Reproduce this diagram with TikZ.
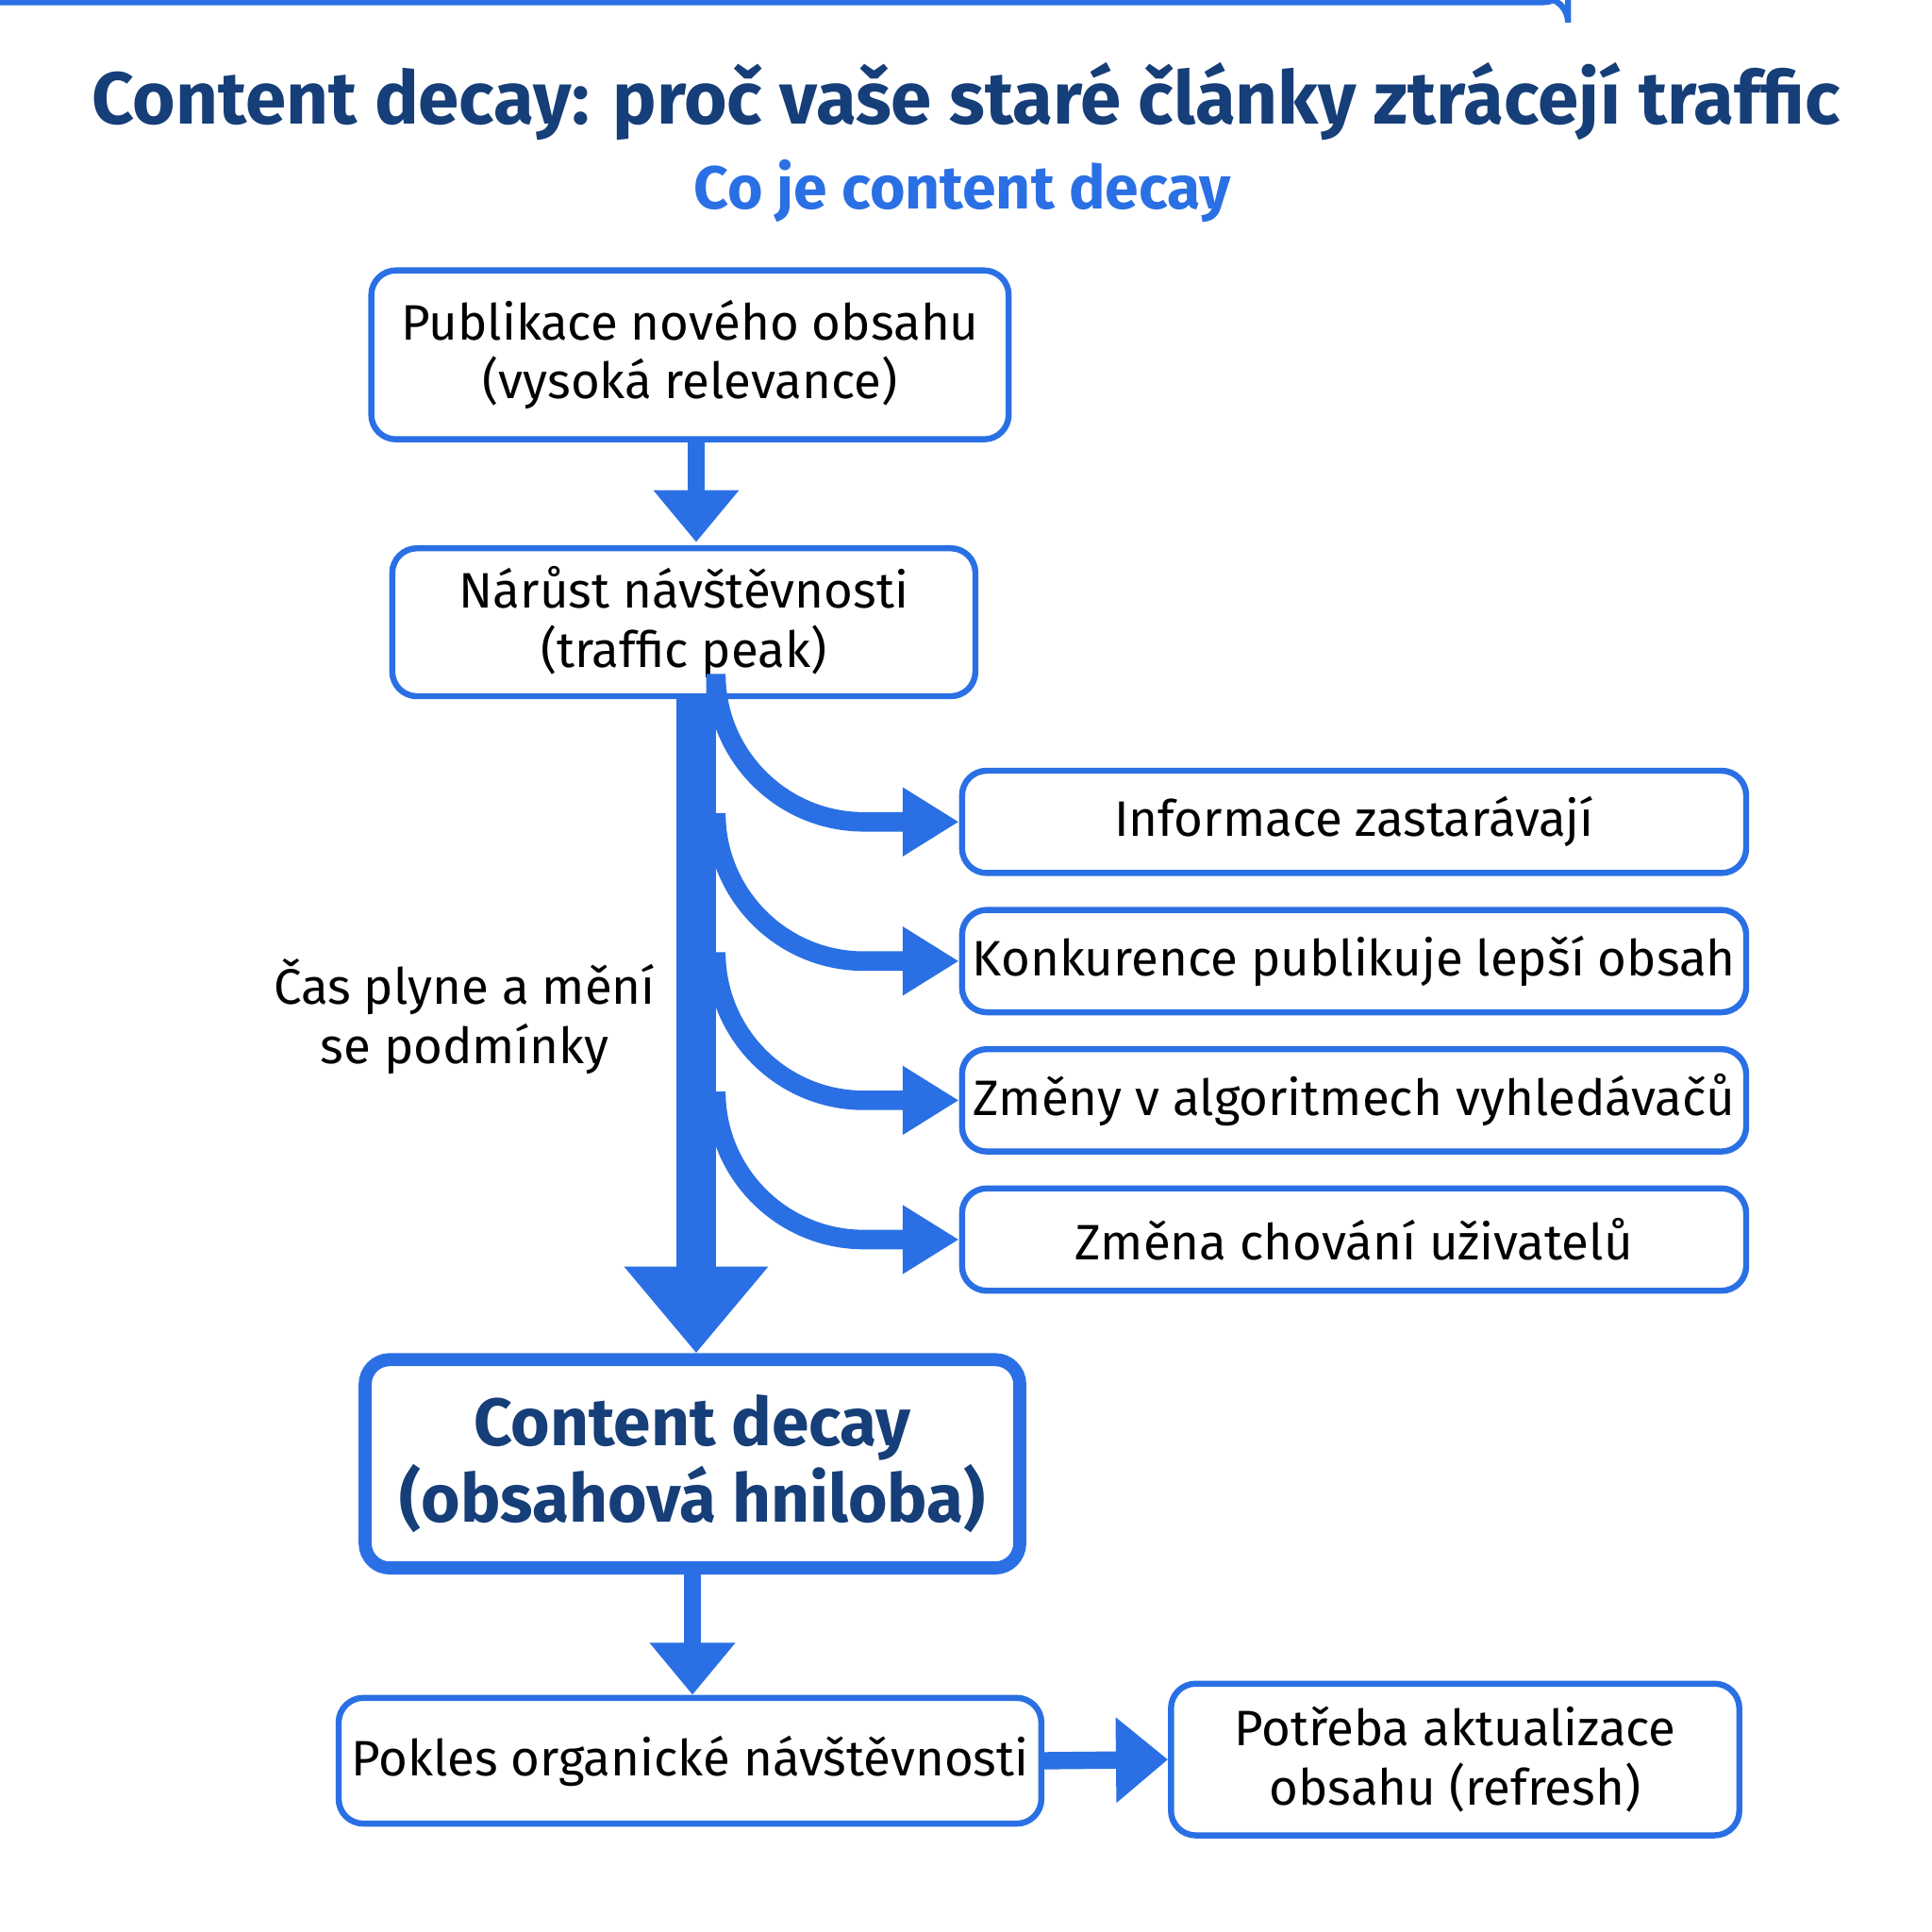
\documentclass[tikz,border=0pt]{standalone}
\usepackage{fontspec}
\setmainfont{Fira Sans}
\usetikzlibrary{arrows.meta, positioning, calc}
\definecolor{flowblue}{RGB}{42,112,228}
\definecolor{navy}{RGB}{22,62,120}
\begin{document}
\begin{tikzpicture}[
	  x=0.01cm, y=-0.01cm,
	  font=\fontsize{11.5}{13.6}\selectfont,
	  box/.style={
	    draw=flowblue,
	    line width=1.4pt,
	    rounded corners=2mm,
	    align=center,
	    inner sep=0pt,
	    fill=white
	  },
	  bigbox/.style={box,line width=3pt,text=navy,font=\fontsize{15.5}{16.5}\selectfont\bfseries},
	  arrow/.style={-{Triangle[width=19pt,length=12pt]},line width=4pt,flowblue},
	  trunkarrow/.style={-{Triangle[width=32pt,length=20pt]},line width=9pt,flowblue},
	  branch/.style={-{Triangle[width=15pt,length=13pt]},line width=4.5pt,flowblue,rounded corners=12mm}
	]
	\useasboundingbox (0,0) rectangle (1568,1568);
	
	\node[text=navy,font=\fontsize{17}{20}\selectfont\bfseries] (title) at (784,82) {Content decay: proč vaše staré články ztrácejí traffic};
	\node[text=flowblue,font=\fontsize{14}{17}\selectfont\bfseries] (subtitle) at (781,155) {Co je content decay};
	
	\node[box,minimum width=517\pgflinewidth] at (0,0) {};
	\node[box,minimum width=5.17cm,minimum height=1.37cm] (publish) at (560,288) {Publikace nového obsahu\\(vysoká relevance)};
	\node[box,minimum width=4.73cm,minimum height=1.2cm] (peak) at (555,505) {Nárůst návštěvnosti\\(traffic peak)};
	
	\node[box,minimum width=6.36cm,minimum height=0.83cm] (outdated) at (1099,667) {Informace zastarávají};
	\node[box,minimum width=6.36cm,minimum height=0.83cm] (rivals) at (1099,780) {Konkurence publikuje lepší obsah};
	\node[box,minimum width=6.36cm,minimum height=0.83cm] (algo) at (1099,893) {Změny v algoritmech vyhledávačů};
	\node[box,minimum width=6.36cm,minimum height=0.83cm] (users) at (1099,1006) {Změna chování uživatelů};
	
	\node[align=center] (time) at (377,825) {Čas plyne a mění\\se podmínky};
	
	\node[bigbox,minimum width=5.31cm,minimum height=1.69cm] (decay) at (562,1188) {Content decay\\(obsahová hniloba)};
	\node[box,minimum width=5.7cm,minimum height=1.02cm] (drop) at (560,1429) {Pokles organické návštěvnosti};
	\node[box,minimum width=4.61cm,minimum height=1.23cm] (refresh) at (1181,1428) {Potřeba aktualizace\\obsahu (refresh)};
	
	\draw[arrow] (publish.south -| 565,0) -- (565,440);
	\draw[trunkarrow] (565,566) -- (decay.north -| 565,0);
	\foreach \y/\target in {665/outdated,778/rivals,892/algo,1005/users}
	  \draw[branch] (581,\y-85) |- (\target.west);
	\draw[arrow] (decay.south -| 562,0) -- (drop.north -| 562,0);
	\draw[arrow] (drop.east) -- (refresh.west);
	
\end{tikzpicture}
\end{document}
